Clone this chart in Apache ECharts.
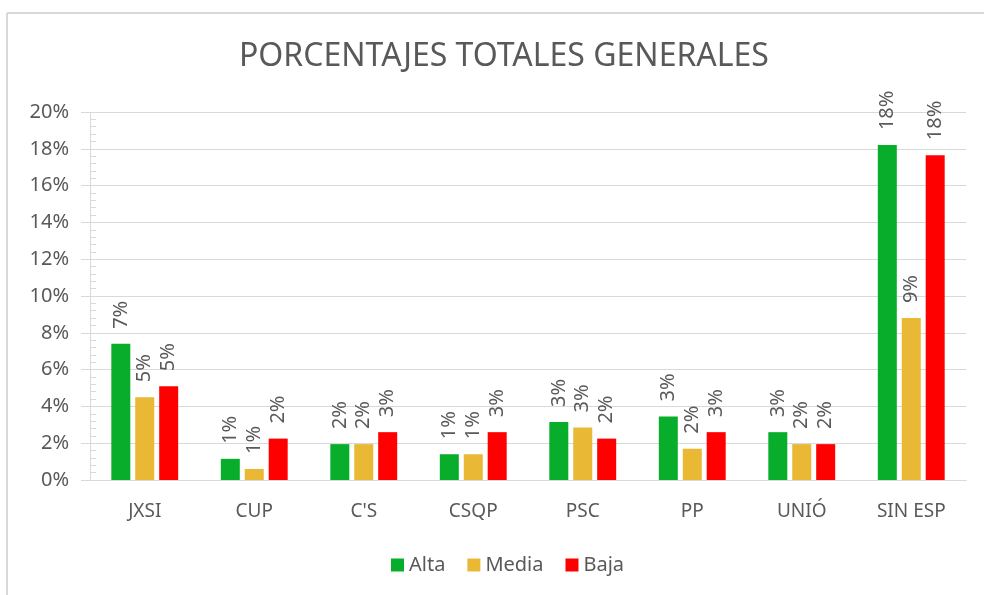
<!DOCTYPE html>
<html>
<head>
<meta charset="utf-8">
<script src="https://cdn.jsdelivr.net/npm/echarts@6/dist/echarts.min.js"></script>
<style>
	html, body { margin: 0; padding: 0; background: #fff; }
	#chart { width: 984px; height: 595px; }
</style>
</head>
<body>
<div id="chart"></div>
<script>
/*数据*/
var categories = ["JXSI", "CUP", "C'S", "CSQP", "PSC", "PP", "UNIÓ", "SIN ESP"];
var alta = [7.4, 1.15, 1.95, 1.4, 3.15, 3.45, 2.6, 18.2];
var media = [4.5, 0.6, 1.95, 1.4, 2.85, 1.7, 1.95, 8.8];
var baja = [5.1, 2.25, 2.6, 2.6, 2.25, 2.6, 1.95, 17.65];
var yTicks = [0, 20, 2];

var txtColor = '#595959';
var fontName = 'Noto Sans';

function barSeries(name, data, color) {
	return {
		name: name,
		type: 'bar',
		data: data,
		barWidth: 19,
		barGap: '26%',
		itemStyle: { color: color },
		label: {
			show: true,
			position: 'top',
			rotate: 90,
			align: 'left',
			verticalAlign: 'middle',
			distance: 15,
			fontFamily: fontName,
			fontSize: 20,
			color: txtColor,
			formatter: function(p) {
				return Math.round(p.value) + '%';
			}
		}
	};
}

var option = {
	animation: false,
	backgroundColor: '#fff',
	title: {
		text: 'PORCENTAJES TOTALES GENERALES',
		left: 234,
		top: 36,
		textStyle: { fontFamily: fontName, fontSize: 32, fontWeight: 'normal', color: txtColor }
	},
	legend: {
		bottom: 15,
		left: 386,
		itemWidth: 13,
		itemHeight: 13,
		itemGap: 22,
		icon: 'rect',
		textStyle: { fontFamily: fontName, fontSize: 20, color: txtColor },
		data: ['Alta', 'Media', 'Baja']
	},
	grid: { left: 90, right: 18, top: 112, bottom: 115, containLabel: false },
	xAxis: {
		type: 'category',
		data: categories,
		axisLine: { lineStyle: { color: '#d9d9d9' } },
		axisTick: { show: false },
		axisLabel: { fontFamily: fontName, fontSize: 19, color: txtColor, margin: 22 }
	},
	yAxis: {
		type: 'value',
		min: yTicks[0],
		max: yTicks[1],
		interval: yTicks[2],
		axisLine: { show: true, lineStyle: { color: '#d9d9d9' } },
		axisTick: { show: true, length: 9, lineStyle: { color: '#d9d9d9' } },
		minorTick: { show: true, splitNumber: 5, length: -6, lineStyle: { color: '#d9d9d9' } },
		splitLine: { lineStyle: { color: '#d9d9d9' } },
		axisLabel: {
			fontFamily: fontName, fontSize: 20, color: txtColor, margin: 21,
			formatter: '{value}%'
		}
	},
	graphic: [
		{ type: 'line', shape: { x1: 7, y1: 13, x2: 984, y2: 13 }, style: { stroke: '#d9d9d9', lineWidth: 2 } },
		{ type: 'line', shape: { x1: 7, y1: 13, x2: 7, y2: 595 }, style: { stroke: '#d9d9d9', lineWidth: 2 } }
	],
	series: [
		barSeries('Alta', alta, '#08ae2b'),
		barSeries('Media', media, '#e9b935'),
		barSeries('Baja', baja, '#fe0000')
	]
};

var chart = echarts.init(document.getElementById('chart'));
chart.setOption(option);
</script>
</body>
</html>
